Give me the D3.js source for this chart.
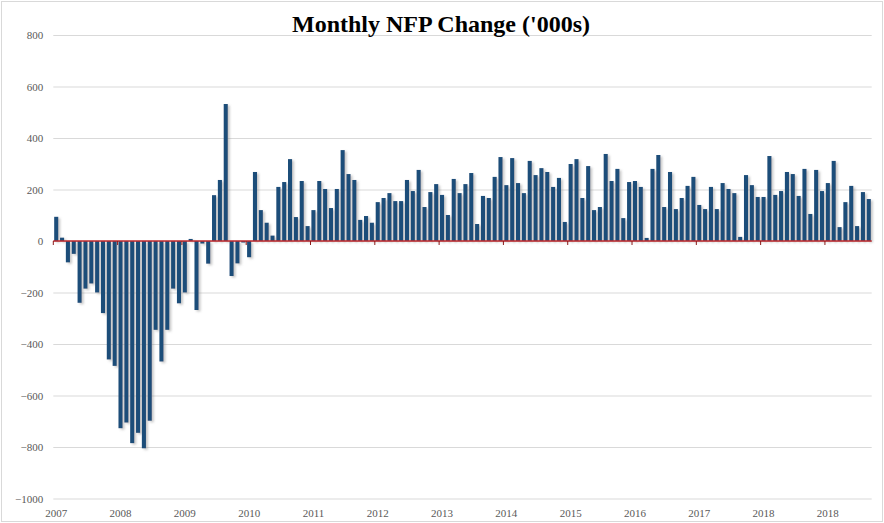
<!DOCTYPE html>
<html lang="en">
<head>
    <meta charset="UTF-8">
    <title>Monthly NFP Change</title>
    <script src="https://d3js.org/d3.v7.min.js"></script>
    <style>
        body { margin: 0; background: #fff; }
    </style>
</head>
<body>
    <div id='main'></div>
    <script>
// data: monthly NFP change ('000s), Dec 2007 .. Jul 2019
var startMonth = '2007-12'
var values2007 = [94]
var values2008 = [13, -83, -50, -240, -185, -165, -200, -280, -460, -485, -727, -705]
var values2009 = [-785, -745, -805, -698, -345, -468, -345, -185, -242, -200, 8, -268]
var values2010 = [-10, -88, 178, 237, 532, -136, -87, -6, -63, 268, 120, 71]
var values2011 = [21, 210, 229, 318, 93, 233, 58, 120, 233, 202, 128, 202]
var values2012 = [353, 260, 237, 82, 97, 71, 151, 167, 186, 155, 155, 237]
var values2013 = [194, 276, 132, 190, 221, 179, 101, 241, 186, 221, 264, 66]
var values2014 = [175, 167, 249, 326, 217, 322, 225, 186, 311, 256, 283, 268]
var values2015 = [210, 245, 74, 299, 318, 167, 291, 120, 132, 338, 233, 280]
var values2016 = [89, 229, 233, 210, 12, 280, 334, 132, 268, 124, 167, 214]
var values2017 = [249, 140, 124, 210, 124, 225, 202, 186, 16, 256, 217, 171]
var values2018 = [171, 330, 179, 194, 268, 260, 175, 280, 105, 276, 194, 225]
var values2019 = [311, 54, 151, 214, 58, 190, 163]

// x axis labels (excel put one every 11 categories)
var xLabels = ['2007','2008','2009','2010','2011','2012','2013','2014','2015','2016','2017','2018','2018']
var labelEvery = 11
var yTicks = [-1000, -800, -600, -400, -200, 0, 200, 400, 600, 800]

var values = [].concat(values2007, values2008, values2009, values2010, values2011, values2012,
    values2013, values2014, values2015, values2016, values2017, values2018, values2019)
var start = d3.timeParse('%Y-%m')(startMonth)
var months = values.map((v, i) => d3.timeFormat('%b %Y')(d3.timeMonth.offset(start, i)))
var data = months.map((m, i) => ({month: m, value: values[i]}))

var width = 884
var height = 523
// plot area (don't call these top/left... window.top is taken)
var plotL = 53.3, plotR = 871.7, plotT = 35, plotB = 498.5

var svg = d3.select('#main').append('svg')
    .attr('width', width)
    .attr('height', height)
    .style('display', 'block')

// shadow behind the bars
var defs = svg.append('defs')
var f = defs.append('filter').attr('id', 'shadow')
    .attr('x', '-50%').attr('y', '-10%').attr('width', '250%').attr('height', '130%')
f.append('feDropShadow')
    .attr('dx', 2).attr('dy', 1.5).attr('stdDeviation', 1.2)
    .attr('flood-color', '#888').attr('flood-opacity', 0.45)

// outer frame
svg.append('rect')
    .attr('x', 1.5).attr('y', 1.5)
    .attr('width', width - 3).attr('height', height - 3)
    .attr('fill', 'none').attr('stroke', '#d9d9d9')

var xScale = d3.scaleBand()
    .domain(months)
    .range([plotL, plotR])
    .paddingInner(0.3)
    .paddingOuter(0.15)

var yScale = d3.scaleLinear()
    .domain([-1000, 800])
    .range([plotB, plotT])

// grid lines + y labels
var yAxis = svg.append('g')
    .attr('transform', `translate(${plotL},0)`)
    .call(d3.axisLeft(yScale).tickValues(yTicks).tickSize(-(plotR - plotL)).tickPadding(10).tickFormat(d3.format('d')))
yAxis.select('.domain').remove()
yAxis.selectAll('line').attr('stroke', '#d9d9d9')
yAxis.selectAll('text')
    .attr('fill', '#595959')
    .style('font-family', '"Liberation Serif", "DejaVu Serif", serif')
    .style('font-size', '11px')

// bars
svg.append('g')
    .attr('filter', 'url(#shadow)')
    .selectAll('rect')
    .data(data)
    .enter()
    .append('rect')
    .attr('x', d => xScale(d.month))
    .attr('y', d => yScale(Math.max(0, d.value)))
    .attr('width', xScale.bandwidth())
    .attr('height', d => Math.abs(yScale(d.value) - yScale(0)))
    .attr('fill', '#1f4e79')

// zero line with small ticks every 11 categories
var step = xScale.step()
var tickIdx = xLabels.map((t, i) => i * labelEvery)
svg.append('line')
    .attr('x1', plotL).attr('x2', plotR)
    .attr('y1', yScale(0)).attr('y2', yScale(0))
    .attr('stroke', '#c0282d').attr('stroke-width', 1.5)
svg.append('g').selectAll('line')
    .data(tickIdx)
    .enter()
    .append('line')
    .attr('x1', i => plotL + i * step).attr('x2', i => plotL + i * step)
    .attr('y1', yScale(0)).attr('y2', yScale(0) + 4)
    .attr('stroke', '#8b1a1a').attr('stroke-width', 1)

// x labels
svg.append('g').selectAll('text')
    .data(xLabels)
    .enter()
    .append('text')
    .attr('x', (t, i) => xScale(months[i * labelEvery]) + xScale.bandwidth() / 2)
    .attr('y', 517)
    .attr('text-anchor', 'middle')
    .attr('fill', '#595959')
    .style('font-family', '"Liberation Serif", "DejaVu Serif", serif')
    .style('font-size', '11px')
    .text(t => t)

// title
svg.append('text')
    .attr('x', 441)
    .attr('y', 32)
    .attr('text-anchor', 'middle')
    .attr('fill', '#000')
    .style('font-family', '"Liberation Serif", "DejaVu Serif", serif')
    .style('font-weight', 'bold')
    .style('font-size', '24px')
    .text("Monthly NFP Change ('000s)")
    </script>
</body>
</html>
